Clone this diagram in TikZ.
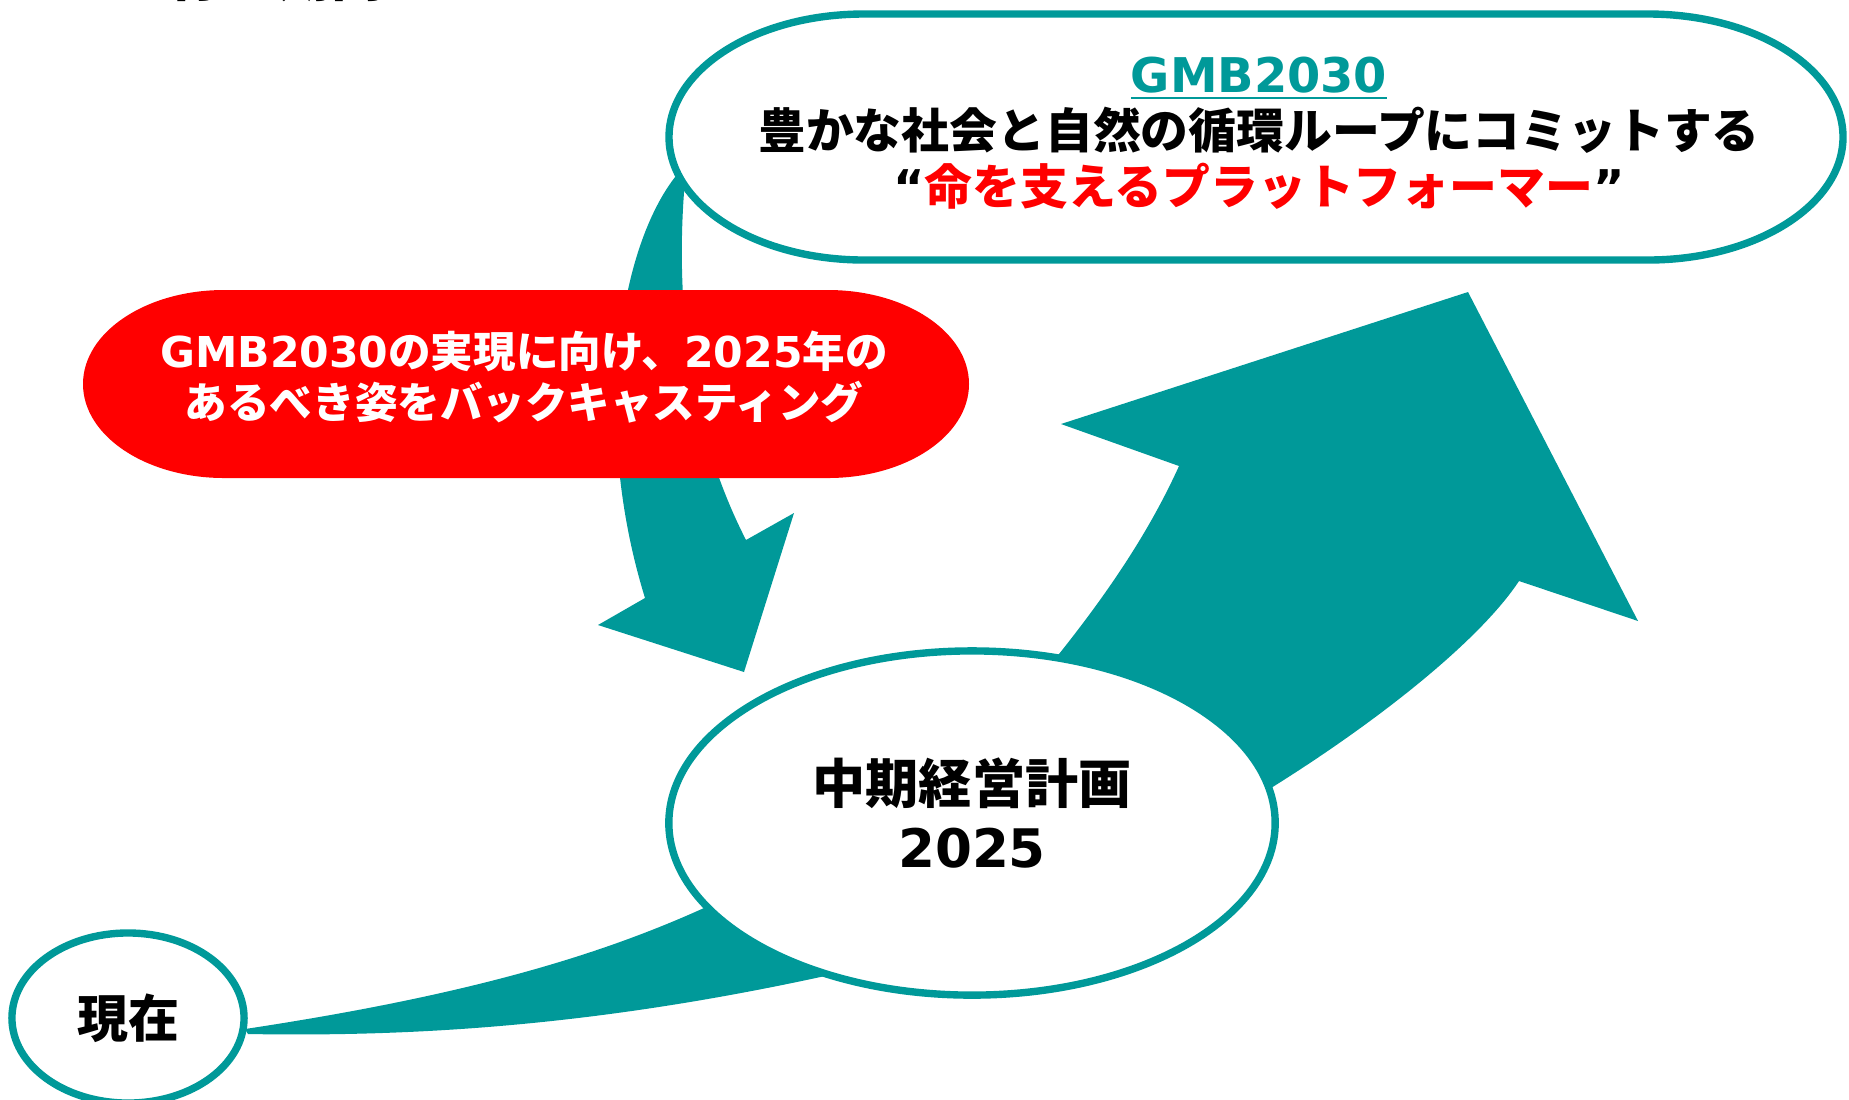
\documentclass[tikz,border=0pt]{standalone}
\usepackage{fontspec}
\setmainfont{Noto Sans CJK JP}
\newfontfamily\latnfont{DejaVu Sans}
\newcommand{\latn}[1]{{\latnfont #1}}
\usetikzlibrary{shapes.geometric}
\definecolor{gmbteal}{RGB}{0,153,153}
\definecolor{gmbred}{RGB}{255,0,0}

\begin{document}
\begin{tikzpicture}[x=0.01cm, y=-0.01cm,
  ring/.style={draw=gmbteal, line width=2.1pt, fill=white},
  bigarrow/.style={fill=gmbteal},
  boxtext/.style={font=\bfseries, align=center, inner sep=0pt}]
  \useasboundingbox (0,0) rectangle (1849,1099);
  % caption cut off by the top edge
  \node[anchor=base west, inner sep=0pt, font=\bfseries\fontsize{15.4pt}{18pt}\selectfont] (caption) at (114,-4) {を行う期間};
  % arrows
  \fill[bigarrow] (245,1029) .. controls (470,995) and (600,955) .. (704,908)
    -- (1059,654) .. controls (1110,590) and (1150,530) .. (1179,466)
    -- (1061,424) -- (1468,292) -- (1638,621) -- (1519,581)
    .. controls (1480,640) and (1380,720) .. (1271,788)
    -- (825,976) .. controls (600,1025) and (420,1037) .. (248,1034) -- cycle;
  \fill[bigarrow] (680,171) .. controls (620,240) and (590,420) .. (645,598)
    -- (598,625) -- (744,672) -- (794,513) -- (746,540)
    .. controls (700,450) and (672,330) .. (685,180) -- cycle;
  % GMB2030 box
  \draw[ring] (864,14) -- (1648,14) arc[start angle=-90, end angle=90, x radius=195, y radius=123]
    -- (864,260) arc[start angle=90, end angle=270, x radius=195, y radius=123] -- cycle;
  \node[boxtext, font=\bfseries\fontsize{13.6pt}{15.9pt}\selectfont] (goal) at (1259,133)
    {{\color{gmbteal}\underline{\latn{GMB2030}}}\\
     豊かな社会と自然の循環ループにコミットする\\
     \latn{“}{\color{gmbred}命を支えるプラットフォーマー}\latn{”}};
  % backcasting box
  \fill[gmbred] (224,290) -- (828,290) arc[start angle=-90, end angle=90, x radius=141, y radius=94]
    -- (224,478) arc[start angle=90, end angle=270, x radius=141, y radius=94] -- cycle;
  \node[boxtext, text=white, font=\bfseries\fontsize{12.1pt}{14.5pt}\selectfont] (backcast) at (524,377)
    {\latn{GMB2030}の実現に向け、\latn{2025}年の\\あるべき姿をバックキャスティング};
  % plan and now
  \node[ring, ellipse, minimum width=6.06cm, minimum height=3.44cm, boxtext,
    font=\bfseries\fontsize{15.1pt}{18pt}\selectfont] (midplan) at (972,823) {};
  \node[boxtext, font=\bfseries\fontsize{15.1pt}{18pt}\selectfont] (midtext) at (972,813) {中期経営計画\\\latn{2025}};
  \node[ring, ellipse, minimum width=2.32cm, minimum height=1.70cm, boxtext,
    font=\bfseries\fontsize{14.5pt}{17pt}\selectfont] (now) at (128,1018) {現在};
\end{tikzpicture}
\end{document}
